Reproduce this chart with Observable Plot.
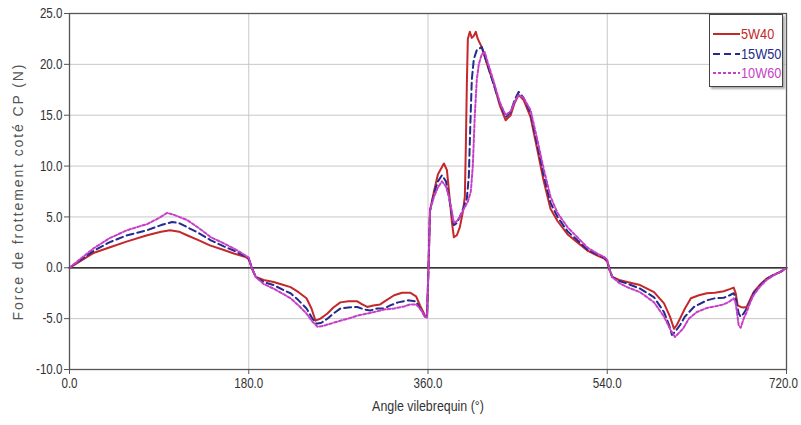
<!DOCTYPE html>
<html>
<head>
<meta charset="utf-8">
<script src="https://cdn.jsdelivr.net/npm/d3@7"></script>
<script src="https://cdn.jsdelivr.net/npm/@observablehq/plot@0.6"></script>
<style>
  html, body { margin: 0; padding: 0; background: #fff; }
  #wrap { position: relative; width: 801px; height: 425px; }
  #legend { position: absolute; left: 709px; top: 14px; width: 74px; height: 73px; box-sizing: border-box;
    border: 1px solid #444; background: #fff; box-shadow: 2px 2px 2px #aaa;
    font-family: "Liberation Sans", Arial, sans-serif; font-size: 15.5px; }
  .row { position: absolute; left: 2px; height: 18px; display: flex; align-items: center; white-space: nowrap; }
  .row svg { width: 28px; height: 6px; margin-right: 1px; flex: none; }
  .row span { display: inline-block; transform: scaleX(0.82); transform-origin: left center; }
</style>
</head>
<body>
<div id="wrap"><div id="chart"></div><div id="legend"></div></div>
<script>
const seriesNames = ["5W40", "15W50", "10W60"];
const seriesColors = ["#c3282a", "#232b8e", "#c63fc6"];
const seriesDash = ["none", "7,4", "3,2"];
const yTicks = [-10, -5, 0, 5, 10, 15, 20, 25];
const xTicks = [0, 180, 360, 540, 720];
const yLabel = "Force de frottement coté CP (N)";
const xLabel = "Angle vilebrequin (°)";

const angles5W40 = [0,10,24,40,58,78,92,101,110,118,130,141,155,165,177,180,183,187,195,205,215,222,230,238,243,247,252,259,265,272,280,289,294,299,305,312,318,326,334,342,348,352,355,357,359,360.5,362,366,370,376,379,381,384,386,389,392,395,397,398,399,400,402,404,406,408,410,414,420,426,432,438,443,447,451,456,463,470,476,483,490,500,510,520,530,537,540,542,545,552,560,573,587,597,603,607,610,614,618,624,632,640,648,657,663,667,669,671,674,677,680,684,687,693,700,707,714,720];
const force5W40 = [0,0.6,1.45,2.0,2.6,3.2,3.55,3.7,3.55,3.2,2.7,2.2,1.75,1.4,1.05,0.85,0,-0.9,-1.2,-1.4,-1.7,-1.9,-2.4,-3.0,-4.0,-5.2,-5.0,-4.5,-3.9,-3.4,-3.3,-3.3,-3.6,-3.85,-3.7,-3.6,-3.2,-2.7,-2.45,-2.45,-2.8,-3.7,-4.3,-4.7,-4.8,0,5.6,7.5,9.2,10.25,9.6,7.6,4.5,3.0,3.2,4.0,5.5,7.0,12,18,22.5,23.2,22.6,22.8,23.2,22.5,21.7,19.8,18.1,16.0,14.5,15.0,16.2,17.0,16.5,14.8,11.5,8.6,5.8,4.6,3.3,2.5,1.7,1.2,0.9,0.6,-0.1,-0.9,-1.2,-1.4,-1.7,-2.4,-3.5,-4.8,-6.0,-5.6,-4.8,-4.0,-3.0,-2.7,-2.5,-2.45,-2.3,-2.1,-1.95,-2.5,-3.7,-3.85,-3.9,-3.85,-3.0,-2.4,-1.7,-1.06,-0.7,-0.4,0];

const angles15W50 = [0,10,24,40,58,78,92,103,110,118,130,142,155,165,177,180,183,187,195,205,215,222,230,238,244,248,253,259,265,272,280,289,296,302,309,316,322,330,340,348,352,357,359,360.5,362,366,370,374,378,381,384,386,389,392,396,399,401,402.5,404,406,409,414,420,426,432,438,443,447,451,456,463,470,476,483,490,500,510,520,530,537,540,542,545,552,560,573,587,597,602,605,608,613,618,627,640,648,657,663,667,669,672,674,677,680,684,687,693,700,707,714,720];
const force15W50 = [0,0.7,1.65,2.5,3.2,3.7,4.2,4.5,4.4,4.0,3.4,2.7,2.1,1.7,1.1,0.9,0,-0.9,-1.4,-1.7,-2.2,-2.5,-3.2,-4.0,-5.0,-5.5,-5.4,-5.0,-4.5,-4.0,-3.9,-3.85,-4.1,-4.2,-4.0,-4.0,-3.7,-3.4,-3.2,-3.3,-4.0,-4.8,-4.85,0,5.6,7.3,8.5,9.1,8.5,7.0,5.2,4.2,4.4,5.0,6.0,6.8,9.0,14,18.5,20.5,21.4,21.7,19.9,18.0,16.2,14.8,15.3,16.5,17.3,16.7,15.2,12.0,9.2,6.4,5.0,3.6,2.7,1.8,1.3,1.0,0.7,-0.1,-0.9,-1.3,-1.55,-2.05,-2.9,-4.35,-5.6,-6.6,-6.3,-5.65,-4.8,-3.85,-3.2,-3.0,-2.95,-2.7,-2.5,-3.0,-4.5,-4.8,-4.5,-4.0,-3.2,-2.5,-1.8,-1.1,-0.7,-0.4,0];

const angles10W60 = [0,10,24,40,58,78,90,98,105,118,130,142,155,165,177,180,183,187,195,205,215,222,230,238,244,249,255,262,272,280,289,299,306,316,326,336,342,348,352,357,359,360.5,362,366,370,374,378,381,384,386,389,392,396,400,403,405,407,409,411,414,417,420,426,432,438,443,447,451,456,463,470,476,483,490,500,510,520,530,537,540,542,545,552,560,573,587,597,603,608,612,616,622,630,640,648,657,663,667,669,672,674,677,680,684,687,693,700,707,714,720];
const force10W60 = [0,0.8,1.9,2.9,3.7,4.3,4.9,5.4,5.2,4.7,3.9,3.0,2.4,1.9,1.2,1.0,0,-0.9,-1.6,-2.05,-2.6,-3.0,-3.7,-4.5,-5.3,-5.8,-5.7,-5.5,-5.2,-5.0,-4.7,-4.5,-4.35,-4.1,-4.0,-3.8,-3.6,-3.6,-4.0,-4.8,-4.9,0,5.6,7.0,7.9,8.5,8.0,7.0,5.5,4.4,4.6,5.0,5.8,6.5,7.5,10.0,15.0,18.5,20.0,21.0,21.2,20.2,18.3,16.3,15.0,15.4,16.3,17.0,16.7,15.5,12.5,9.8,7.0,5.4,4.0,3.0,2.0,1.4,1.05,0.8,-0.1,-0.9,-1.5,-1.9,-2.4,-3.4,-4.8,-6.0,-6.8,-6.4,-6.0,-5.0,-4.35,-3.95,-3.8,-3.6,-3.3,-3.0,-3.5,-5.65,-5.9,-5.0,-4.35,-3.3,-2.7,-1.9,-1.2,-0.75,-0.4,0];

const allAngles = [angles5W40, angles15W50, angles10W60];
const allForces = [force5W40, force15W50, force10W60];
const rows = [];
seriesNames.forEach((s, i) => allAngles[i].forEach((a, j) => rows.push({series: s, angle: a, force: allForces[i][j]})));

const sans = '"Liberation Sans", Arial, sans-serif';
const fmt = d => d.toFixed(1);

const lineMarks = seriesNames.map((s, i) => Plot.line(rows.filter(r => r.series === s), {
  x: "angle", y: "force", stroke: seriesColors[i], strokeWidth: 2,
  strokeDasharray: seriesDash[i] === "none" ? undefined : seriesDash[i], curve: "linear"
}));

const chart = Plot.plot({
  width: 801, height: 425,
  marginLeft: 69, marginRight: 15, marginTop: 13, marginBottom: 56,
  style: {fontFamily: sans, fontSize: "14.5px", color: "#333", background: "#fff"},
  x: {domain: [0, 720], axis: null},
  y: {domain: [-10, 25], axis: null},
  marks: [
    Plot.gridY(yTicks, {stroke: "#c8c8c8", strokeOpacity: 1}),
    Plot.gridX(xTicks.slice(1, -1), {stroke: "#c8c8c8", strokeOpacity: 1}),
    Plot.ruleY([0], {stroke: "#000", strokeWidth: 1.3}),
    ...lineMarks,
    Plot.frame({stroke: "#555", strokeWidth: 1.3}),
    Plot.axisY(yTicks, {tickFormat: fmt, tickSize: 5, tickPadding: 2, label: null, stroke: "#555", fill: "#333"}),
    Plot.axisX(xTicks, {tickFormat: fmt, tickSize: 5, tickPadding: 3, label: null, stroke: "#555", fill: "#333"}),
    Plot.text([yLabel], {text: d => d, frameAnchor: "left", dx: -51, rotate: -90, textAnchor: "middle", fontSize: 14,
      fontFamily: sans, fill: "#555"}),
    Plot.text([xLabel], {text: d => d, frameAnchor: "bottom", dy: 41, textAnchor: "middle", fontSize: 15.5, fill: "#333"})
  ]
});
document.getElementById("chart").appendChild(chart);

// y label: spaced-out regular face; other texts: emulate a narrow face by compressing the glyphs
d3.select(chart).selectAll("text")
  .each(function() {
    if (this.textContent === yLabel) {
      this.style.letterSpacing = "1.9px";
      return;
    }
    const w = this.getComputedTextLength();
    if (w > 0) {
      this.setAttribute("textLength", (w * 0.8).toFixed(2));
      this.setAttribute("lengthAdjust", "spacingAndGlyphs");
    }
    if (this.textContent === fmt(xTicks[xTicks.length - 1])) this.setAttribute("dx", "-3");
  });

const legend = document.getElementById("legend");
seriesNames.forEach((s, i) => {
  const row = document.createElement("div");
  row.className = "row";
  row.style.top = (10 + i * 19.5) + "px";
  const dash = seriesDash[i] === "none" ? "" : `stroke-dasharray="${seriesDash[i]}"`;
  row.innerHTML = `<svg viewBox="0 0 28 6"><line x1="1" y1="3" x2="28" y2="3" stroke="${seriesColors[i]}" stroke-width="2" ${dash}/></svg><span style="color:${seriesColors[i]}">${s}</span>`;
  legend.appendChild(row);
});
</script>
</body>
</html>
